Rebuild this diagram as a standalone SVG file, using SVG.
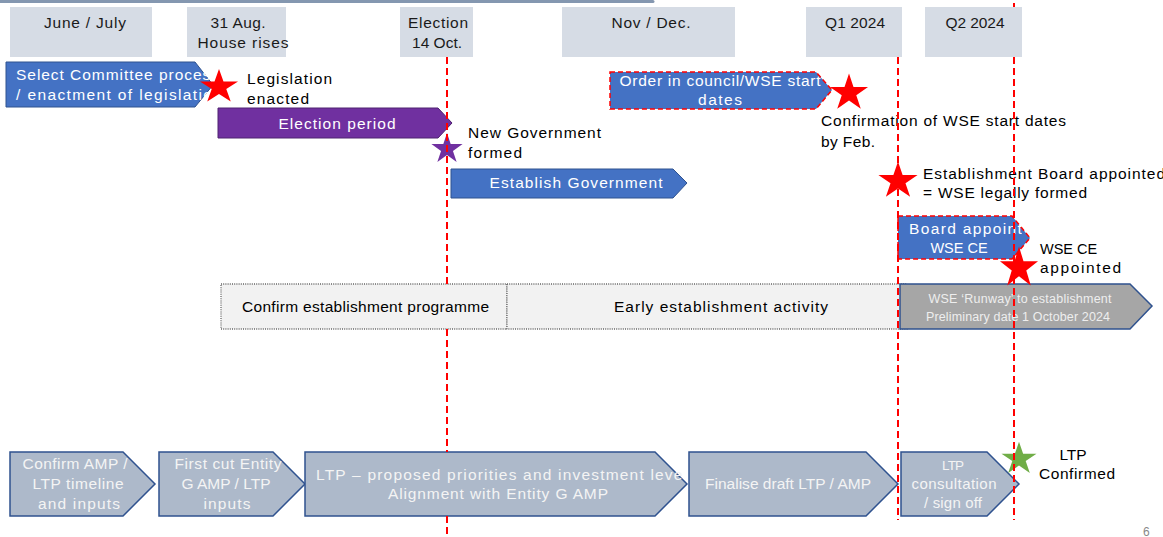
<svg xmlns="http://www.w3.org/2000/svg" xmlns:xlink="http://www.w3.org/1999/xlink" width="1163" height="537" viewBox="0 0 1163 537">
<style>
text{font-family:"Liberation Sans",Arial,sans-serif;font-size:15.5px;fill:#000}
.hdr{fill:#d6dce5}
.hdrt{text-anchor:middle;fill:#1a1a1a}
.blue{fill:#4472c4;stroke:#2f528f;stroke-width:1}
.blued{fill:#4472c4;stroke:#ff0000;stroke-width:1.5;stroke-dasharray:5,3}
.purple{fill:#7030a0;stroke:#4e2370;stroke-width:1}
.grey{fill:#a6a6a6;stroke:#2f528f;stroke-width:1.5}
.lgrey{fill:#adb9ca;stroke:#2f528f;stroke-width:1.5}
.dot{fill:#f2f2f2;stroke:#666;stroke-width:1.3;stroke-dasharray:1,1.2}
.w{fill:#fff}
.wl{fill:#f4f4f4}
.c{text-anchor:middle}
.vline{fill:none;stroke:#ff0000;stroke-width:2;stroke-dasharray:7,4}
</style>
<defs>
<polygon id="star" points="0,-20 4.49,-6.18 19.02,-6.18 7.27,2.36 11.76,16.18 0,7.64 -11.76,16.18 -7.27,2.36 -19.02,-6.18 -4.49,-6.18"/>
<clipPath id="clipSel"><path d="M6,62 H213 V107 H6 Z"/></clipPath>
<clipPath id="clipBoard"><path d="M898,216 H1022 V259 H898 Z"/></clipPath>
<clipPath id="clipB3"><path d="M305,452 H684 V516 H305 Z"/></clipPath>
<clipPath id="clipOrder"><path d="M610,72 H824 V109 H610 Z"/></clipPath>
</defs>

<line x1="0" y1="1.5" x2="653" y2="1.5" stroke="#8497b0" stroke-width="3" stroke-linecap="round"/>

<g id="q2-top-stub"><path class="vline" d="M1014,3 V7"/></g>

<g id="hdr-junejuly"><rect class="hdr" x="10" y="7" width="142" height="50"/><text class="hdrt" x="85" y="28" textLength="82">June / July</text></g>
<g id="hdr-aug"><rect class="hdr" x="187" y="7" width="99" height="50"/><text class="hdrt" x="238" y="28" textLength="55">31 Aug.</text><text class="hdrt" x="243" y="48" textLength="91">House rises</text></g>
<g id="hdr-election"><rect class="hdr" x="400" y="7" width="73" height="50"/><text class="hdrt" x="438" y="28" textLength="60">Election</text><text class="hdrt" x="437" y="48" textLength="50">14 Oct.</text></g>
<g id="hdr-novdec"><rect class="hdr" x="562" y="7" width="173" height="50"/><text class="hdrt" x="651" y="28" textLength="79">Nov / Dec.</text></g>
<g id="hdr-q1"><rect class="hdr" x="806" y="7" width="96" height="50"/><text class="hdrt" x="855" y="28" textLength="60">Q1 2024</text></g>
<g id="hdr-q2"><rect class="hdr" x="925" y="7" width="97" height="50"/><text class="hdrt" x="975" y="28" textLength="59">Q2 2024</text></g>

<g id="select-committee">
<path class="blue" d="M6,62 H195 L213,85 L195,107 H6 Z"/>
<g clip-path="url(#clipSel)"><text class="w" x="16" y="80" textLength="203">Select Committee process</text><text class="w" x="16" y="100" textLength="206">/ enactment of legislation</text></g>
</g>
<g id="legislation-enacted">
<use xlink:href="#star" transform="translate(219,87) scale(1.0,0.9)" fill="#ff0000"/>
<text x="247" y="84" textLength="85">Legislation</text><text x="247" y="104" textLength="62">enacted</text>
</g>
<g id="election-period">
<path class="purple" d="M218,108 H438 L452,123 L438,138 H218 Z"/>
<text class="w c" x="337" y="129" textLength="117">Election period</text>
</g>
<g id="new-government">
<use xlink:href="#star" transform="translate(447,149) scale(0.82,0.8)" fill="#7030a0"/>
<text x="468" y="138" textLength="133">New Government</text><text x="468" y="158" textLength="54">formed</text>
</g>
<g id="establish-government">
<path class="blue" d="M451,169 H673 L687,183 L673,198 H451 Z"/>
<text class="w c" x="576" y="188" textLength="173">Establish Government</text>
</g>
<g id="order-in-council">
<path class="blued" d="M610,72 H816 L832,90 L816,109 H610 Z"/>
<g clip-path="url(#clipOrder)"><text class="w c" x="720" y="86" textLength="201">Order in council/WSE start</text></g>
<text class="w c" x="720" y="105" textLength="44">dates</text>
</g>
<g id="confirmation-wse">
<use xlink:href="#star" transform="translate(849,93) scale(1.0,0.97)" fill="#ff0000"/>
<text x="821" y="126" textLength="245">Confirmation of WSE start dates</text><text x="821" y="147" textLength="54">by Feb.</text>
</g>
<g id="establishment-board">
<use xlink:href="#star" transform="translate(898,181) scale(1.03,0.97)" fill="#ff0000"/>
<text x="923" y="179" textLength="242">Establishment Board appointed</text><text x="923" y="198" textLength="164">= WSE legally formed</text>
</g>
<g id="board-appoint">
<path class="blued" d="M898,216 H1012 L1030,238 L1012,259 H898 Z"/>
<g clip-path="url(#clipBoard)"><text class="w" x="909" y="234" textLength="122">Board appoints</text></g>
<text class="w c" x="959" y="253" style="font-size:14.5px">WSE CE</text>
</g>
<g id="confirm-establishment">
<rect class="dot" x="221" y="284" width="286" height="45"/>
<text x="242" y="312" textLength="247">Confirm establishment programme</text>
</g>
<g id="early-establishment">
<rect class="dot" x="507" y="284" width="400" height="45"/>
<text class="c" x="721" y="312" textLength="214">Early establishment activity</text>
</g>
<g id="runway">
<path class="grey" d="M900,284 H1130 L1152,306 L1130,329 H900 Z"/>
<text class="c" x="1020" y="303" textLength="183" style="font-size:12.5px;fill:#eeeeee">WSE ‘Runway’ to establishment</text>
<text class="c" x="1018" y="321" textLength="184" style="font-size:12.5px;fill:#eeeeee">Preliminary date 1 October 2024</text>
</g>
<g id="wse-ce-appointed">
<use xlink:href="#star" transform="translate(1019,268) scale(1.0,1.08)" fill="#ff0000"/>
<text x="1040" y="254" style="font-size:14.5px">WSE CE</text><text x="1040" y="273" textLength="81">appointed</text>
</g>

<g id="confirm-amp">
<path class="lgrey" d="M10,452 H123 L155,484 L123,516 H10 Z"/>
<text class="wl c" x="75" y="469" textLength="105">Confirm AMP /</text><text class="wl c" x="78" y="489" textLength="91">LTP timeline</text><text class="wl c" x="79" y="509" textLength="82">and inputs</text>
</g>
<g id="first-cut">
<path class="lgrey" d="M159,452 H273 L305,484 L273,516 H159 Z"/>
<text class="wl c" x="228" y="469" textLength="107">First cut Entity</text><text class="wl c" x="226" y="489" textLength="89">G AMP / LTP</text><text class="wl c" x="227" y="509" textLength="47">inputs</text>
</g>
<g id="ltp-priorities">
<path class="lgrey" d="M305,452 H655 L687,484 L655,516 H305 Z"/>
<g clip-path="url(#clipB3)"><text class="wl" x="316" y="480" textLength="380">LTP – proposed priorities and investment levels</text></g>
<text class="wl c" x="498" y="499" textLength="220">Alignment with Entity G AMP</text>
</g>
<g id="finalise-draft">
<path class="lgrey" d="M689,452 H866 L898,484 L866,516 H689 Z"/>
<text class="wl c" x="788" y="489" textLength="166">Finalise draft LTP / AMP</text>
</g>
<g id="ltp-consultation">
<path class="lgrey" d="M901,452 H987 L1019,484 L987,516 H901 Z"/>
<text class="wl c" x="953" y="470" textLength="22" style="font-size:13.5px">LTP</text><text class="wl c" x="954" y="489" textLength="85" style="font-size:15px">consultation</text><text class="wl c" x="953" y="508" textLength="58" style="font-size:15px">/ sign off</text>
</g>
<g id="ltp-confirmed">
<use xlink:href="#star" transform="translate(1019,459) scale(0.92,0.86)" fill="#70ad47"/>
<text class="c" x="1073" y="460" textLength="27">LTP</text><text class="c" x="1077" y="479" textLength="76">Confirmed</text>
</g>

<g id="connectors">
<path class="vline" d="M447,57 V284 M447,329 V452 M447,516 V537"/>
<path class="vline" d="M898,57 V520"/>
<path class="vline" d="M1014,57 V520"/>
</g>

<text x="1143" y="536" style="font-size:12px;fill:#888">6</text>
</svg>
